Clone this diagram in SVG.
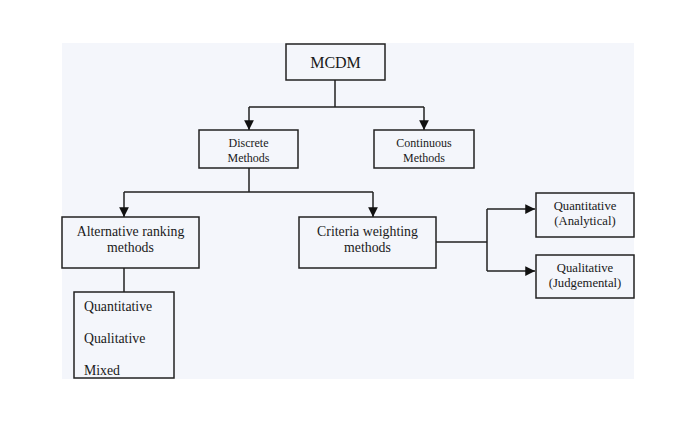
<svg xmlns="http://www.w3.org/2000/svg" width="680" height="433" viewBox="0 0 680 433">
<style>
.box{fill:none;stroke:#222;stroke-width:1.5}
.ln{fill:none;stroke:#222;stroke-width:1.5}
text{font-family:"Liberation Serif","Times New Roman",serif;fill:#1a1a1a;text-anchor:middle}
.s12{font-size:12px}
.s125{font-size:12.7px}
.s13{font-size:13.8px}
.l{text-anchor:start}
</style>
<defs>
<marker id="ah" viewBox="0 0 10 10" refX="10" refY="5" markerWidth="6.5" markerHeight="6.5" markerUnits="strokeWidth" orient="auto">
<path d="M0,0 L10,5 L0,10 z" fill="#111"/>
</marker>
</defs>
<rect x="0" y="0" width="680" height="433" fill="#ffffff"/>
<rect x="62" y="43" width="572" height="336" fill="#f4f6fb"/>
<g id="connectors">
<path class="ln" d="M335,80 V107 M249,107 H424"/>
<path class="ln" d="M249,107 V130" marker-end="url(#ah)"/>
<path class="ln" d="M424,107 V130" marker-end="url(#ah)"/>
<path class="ln" d="M249,168 V192 M124,192 H373"/>
<path class="ln" d="M124,192 V217" marker-end="url(#ah)"/>
<path class="ln" d="M373,192 V217" marker-end="url(#ah)"/>
<path class="ln" d="M124,268 V292"/>
<path class="ln" d="M436,242 H487 M487,209 V271"/>
<path class="ln" d="M487,209 H535" marker-end="url(#ah)"/>
<path class="ln" d="M487,271 H535" marker-end="url(#ah)"/>
</g>
<g id="mcdm">
<rect class="box" x="286" y="44" width="99" height="36"/>
<text x="335.5" y="68" font-size="16">MCDM</text>
</g>
<g id="discrete">
<rect class="box" x="199" y="130" width="99" height="38"/>
<text class="s12" x="248.5" y="147">Discrete</text>
<text class="s12" x="248.5" y="162">Methods</text>
</g>
<g id="continuous">
<rect class="box" x="374" y="130" width="100" height="38"/>
<text class="s12" x="424" y="147">Continuous</text>
<text class="s12" x="424" y="162">Methods</text>
</g>
<g id="alternative">
<rect class="box" x="62" y="217" width="137" height="51"/>
<text class="s13" x="130.5" y="236">Alternative ranking</text>
<text class="s13" x="130.5" y="252">methods</text>
</g>
<g id="criteria">
<rect class="box" x="299" y="217" width="137" height="51"/>
<text class="s13" x="367.5" y="236">Criteria weighting</text>
<text class="s13" x="367.5" y="252">methods</text>
</g>
<g id="list">
<rect class="box" x="74" y="292" width="100" height="86"/>
<text class="s13 l" x="84" y="311">Quantitative</text>
<text class="s13 l" x="84" y="343">Qualitative</text>
<text class="s13 l" x="84" y="375">Mixed</text>
</g>
<g id="quantitative">
<rect class="box" x="536" y="193" width="98" height="44"/>
<text class="s125" x="585" y="210">Quantitative</text>
<text class="s125" x="585" y="225">(Analytical)</text>
</g>
<g id="qualitative">
<rect class="box" x="536" y="255" width="98" height="43"/>
<text class="s125" x="585" y="272">Qualitative</text>
<text class="s125" x="585" y="287">(Judgemental)</text>
</g>
</svg>
